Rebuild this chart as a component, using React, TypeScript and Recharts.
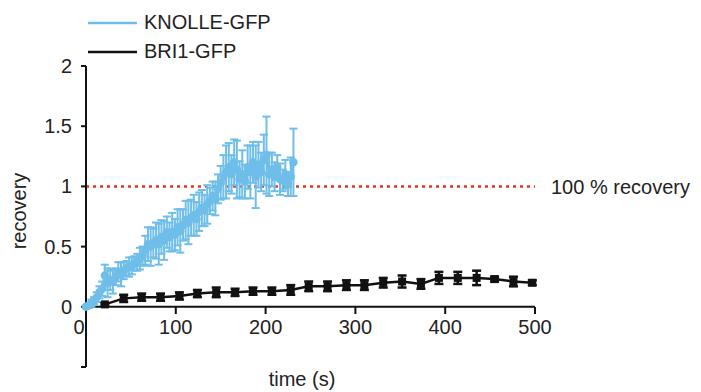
import { ErrorBar, Label, Legend, Line, LineChart, ReferenceLine, XAxis, YAxis } from 'recharts'

const knolleTime = [
  0, 3, 6, 9, 12, 15, 18, 21, 24, 27, 30, 33, 36, 39, 42, 45, 48, 51, 54, 57,
  60, 63, 66, 69, 72, 75, 78, 81, 84, 87, 90, 93, 96, 99, 102, 105, 108, 111, 114, 117,
  120, 123, 126, 129, 132, 135, 138, 141, 144, 147, 150, 153, 156, 159, 162, 165, 168, 171, 174, 177,
  180, 183, 186, 189, 192, 195, 198, 201, 204, 207, 210, 213, 216, 219, 222, 225, 228, 231,
]
const knolleRecovery = [
  0.0, 0.01, 0.03, 0.05, 0.08, 0.12, 0.15, 0.26, 0.2, 0.22, 0.21, 0.25, 0.29, 0.27, 0.3, 0.32, 0.33, 0.34, 0.36, 0.37,
  0.4, 0.42, 0.47, 0.52, 0.5, 0.53, 0.55, 0.52, 0.58, 0.55, 0.62, 0.58, 0.62, 0.6, 0.66, 0.63, 0.68, 0.72, 0.7, 0.74,
  0.76, 0.73, 0.79, 0.82, 0.8, 0.85, 0.88, 0.92, 0.9, 0.98, 1.03, 1.08, 1.12, 1.16, 1.1, 1.2, 1.14, 1.06, 1.1, 1.04,
  1.16, 1.12, 1.2, 1.08, 1.18, 1.12, 1.22, 1.26, 1.1, 1.14, 1.08, 1.16, 1.06, 1.05, 1.1, 1.02, 1.08, 1.2,
]
const knolleError = [
  0.01, 0.02, 0.03, 0.03, 0.04, 0.05, 0.06, 0.09, 0.12, 0.08, 0.1, 0.07, 0.08, 0.1, 0.07, 0.06, 0.08, 0.07, 0.06, 0.07,
  0.09, 0.08, 0.12, 0.14, 0.16, 0.12, 0.15, 0.17, 0.14, 0.16, 0.13, 0.12, 0.16, 0.13, 0.15, 0.18, 0.13, 0.16, 0.18, 0.15,
  0.17, 0.14, 0.16, 0.15, 0.13, 0.16, 0.11, 0.12, 0.14, 0.12, 0.14, 0.18, 0.22, 0.2, 0.16, 0.19, 0.24, 0.15, 0.2, 0.14,
  0.18, 0.22, 0.17, 0.26, 0.19, 0.16, 0.21, 0.32, 0.18, 0.14, 0.12, 0.1, 0.13, 0.09, 0.12, 0.1, 0.16, 0.28,
]

const bri1Time = [21, 42, 62, 83, 104, 124, 145, 166, 186, 207, 228, 248, 269, 290, 310, 331, 352, 373, 393, 414, 435, 455, 476, 497]
const bri1Recovery = [
  0.02, 0.07, 0.08, 0.08, 0.09, 0.11, 0.12, 0.12, 0.13, 0.13, 0.14, 0.17, 0.17, 0.18, 0.18, 0.2, 0.21, 0.19, 0.24, 0.24,
  0.24, 0.23, 0.21, 0.2,
]
const bri1Error = [
  0.01, 0.03, 0.03, 0.03, 0.03, 0.03, 0.04, 0.03, 0.03, 0.03, 0.04, 0.04, 0.04, 0.04, 0.04, 0.04, 0.05, 0.04, 0.05, 0.05,
  0.06, 0.02, 0.04, 0.02,
]

const seriesOrder = ['KNOLLE-GFP', 'BRI1-GFP']
const xTicks = [0, 100, 200, 300, 400, 500]
const yTicks = [-0.5, 0, 0.5, 1, 1.5, 2]

const knolleData = knolleTime.map((t, i) => ({ t, v: knolleRecovery[i], e: knolleError[i] }))
const bri1Data = bri1Time.map((t, i) => ({ t, v: bri1Recovery[i], e: bri1Error[i] }))

const BLUE = '#6FBEEA'
const BLACK = '#111111'
const RED = '#E8361F'
const TEXT = '#222222'
const FONT = '"Liberation Sans", Arial, sans-serif'

// the y axis runs down to -0.5 but the time axis sits at 0, this is the gap in px
const ZERO_SHIFT = 60

function TimeTick({ x, y, payload }: any) {
  const y0 = y - ZERO_SHIFT
  const isZero = payload.value === 0
  return (
    <g>
      {!isZero && <line x1={x} x2={x} y1={y0} y2={y0 + 7} stroke={BLACK} strokeWidth={2} />}
      <text x={isZero ? x - 7 : x} y={y0 + 27} textAnchor="middle" fontSize={20} fontFamily={FONT} fill={TEXT}>
        {payload.value}
      </text>
    </g>
  )
}

function RecoveryTick({ x, y, payload }: any) {
  if (payload.value < 0) return <g />
  return (
    <text x={x} y={y} dy={7} textAnchor="end" fontSize={20} fontFamily={FONT} fill={TEXT}>
      {payload.value}
    </text>
  )
}

function SeriesLegend({ payload }: any) {
  const items = [...(payload || [])].sort(
    (a: any, b: any) => seriesOrder.indexOf(a.value) - seriesOrder.indexOf(b.value),
  )
  return (
    <div>
      {items.map((entry: any) => (
        <div key={entry.value} style={{ display: 'flex', alignItems: 'center', height: 29 }}>
          <svg width={49} height={4} style={{ marginRight: 7 }}>
            <line x1={0} x2={49} y1={2} y2={2} stroke={entry.color} strokeWidth={2.5} />
          </svg>
          <span style={{ fontSize: 20, fontFamily: FONT, color: TEXT }}>{entry.value}</span>
        </div>
      ))}
    </div>
  )
}

export default function App() {
  return (
    <div style={{ position: 'absolute', left: 0, top: 0, width: 701, height: 392, background: '#fff' }}>
      <LineChart width={701} height={392} data={knolleData} margin={{ top: 66, right: 166, bottom: 5, left: 0 }}>
        <XAxis
          type="number"
          dataKey="t"
          domain={[0, 500]}
          ticks={xTicks}
          axisLine={false}
          tickLine={false}
          tickSize={0}
          tickMargin={0}
          height={20}
          tick={<TimeTick />}
        >
          <Label
            content={() => (
              <text x={302} y={386} textAnchor="middle" fontSize={20} fontFamily={FONT} fill={TEXT}>
                time (s)
              </text>
            )}
          />
        </XAxis>
        <YAxis
          type="number"
          domain={[-0.5, 2]}
          ticks={yTicks}
          width={86}
          axisLine={{ stroke: BLACK, strokeWidth: 2 }}
          tickLine={{ stroke: BLACK, strokeWidth: 2 }}
          tickSize={5}
          tickMargin={9}
          tick={<RecoveryTick />}
        >
          <Label
            content={() => (
              <text
                x={19}
                y={211}
                transform="rotate(-90 19 211)"
                textAnchor="middle"
                dominantBaseline="central"
                fontSize={20}
                fontFamily={FONT}
                fill={TEXT}
              >
                recovery
              </text>
            )}
          />
        </YAxis>
        <ReferenceLine y={0} stroke={BLACK} strokeWidth={2} />
        <ReferenceLine
          y={1}
          stroke={RED}
          strokeWidth={2.5}
          strokeDasharray="3 4"
          label={{ value: '100 % recovery', position: 'right', offset: 16, fontSize: 20, fontFamily: FONT, fill: TEXT }}
        />
        <Legend
          layout="vertical"
          align="center"
          verticalAlign="middle"
          itemSorter={null}
          wrapperStyle={{ left: 88, top: 8, width: 'auto' }}
          content={<SeriesLegend />}
        />
        <Line
          name="KNOLLE-GFP"
          data={knolleData}
          dataKey="v"
          stroke={BLUE}
          strokeWidth={2.5}
          dot={{ r: 3, fill: BLUE, stroke: BLUE }}
          isAnimationActive={false}
        >
          <ErrorBar dataKey="e" direction="y" width={4} stroke={BLUE} strokeWidth={2} isAnimationActive={false} />
        </Line>
        <Line
          name="BRI1-GFP"
          data={bri1Data}
          dataKey="v"
          stroke={BLACK}
          strokeWidth={2.5}
          dot={(p: any) => <rect key={p.index} x={p.cx - 4} y={p.cy - 4} width={8} height={8} fill={BLACK} />}
          isAnimationActive={false}
        >
          <ErrorBar dataKey="e" direction="y" width={4.5} stroke={BLACK} strokeWidth={2.5} isAnimationActive={false} />
        </Line>
      </LineChart>
    </div>
  )
}
